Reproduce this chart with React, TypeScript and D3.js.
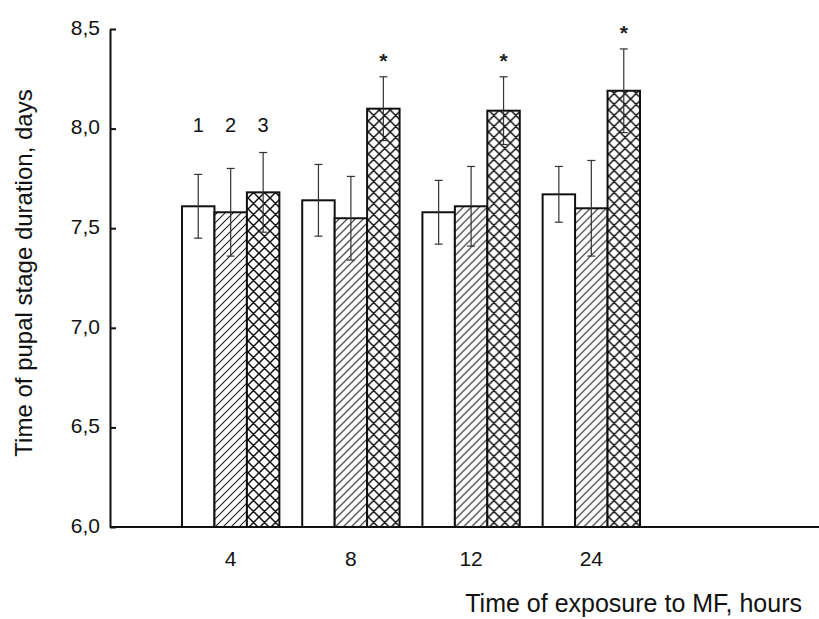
import React, { useEffect, useRef } from 'react';
import * as d3 from 'd3';

// exposure time groups (hours)
const exposureHours = ['4', '8', '12', '24'];
const seriesLabels = ['1', '2', '3'];

// mean pupal stage duration, days
const meanS1 = [7.61, 7.64, 7.58, 7.67];
const meanS2 = [7.58, 7.55, 7.61, 7.6];
const meanS3 = [7.68, 8.1, 8.09, 8.19];

// error (+/-)
const errS1 = [0.16, 0.18, 0.16, 0.14];
const errS2 = [0.22, 0.21, 0.2, 0.24];
const errS3 = [0.2, 0.16, 0.17, 0.21];

// asterisk markers on series 3
const significantS3 = [false, true, true, true];

const yTicks = [6.0, 6.5, 7.0, 7.5, 8.0, 8.5];
const yTickLabels = ['6,0', '6,5', '7,0', '7,5', '8,0', '8,5'];

const width = 819;
const height = 619;
const font = "'Liberation Sans', Arial, sans-serif";

const App = () => {
  const ref = useRef<SVGSVGElement>(null);

  useEffect(() => {
    const svg = d3.select(ref.current);
    svg.selectAll('*').remove();

    const axisX = 110;
    const y = d3.scaleLinear().domain([6, 8.5]).range([527, 29]);
    const x0 = d3.scaleBand().domain(exposureHours).range([182, 640]).paddingInner(0.19);
    const x1 = d3.scaleBand().domain(seriesLabels).range([0, x0.bandwidth()]);

    const means = [meanS1, meanS2, meanS3];
    const errs = [errS1, errS2, errS3];
    const fills = ['#fff', 'url(#hatch)', 'url(#cross)'];

    // patterns
    const defs = svg.append('defs');
    const hatch = defs.append('pattern')
      .attr('id', 'hatch')
      .attr('patternUnits', 'userSpaceOnUse')
      .attr('width', 8)
      .attr('height', 8);
    hatch.append('rect').attr('width', 8).attr('height', 8).attr('fill', '#fff');
    hatch.append('path')
      .attr('d', 'M-2,2 l4,-4 M0,8 l8,-8 M6,10 l4,-4')
      .attr('stroke', '#222')
      .attr('stroke-width', 1.1);

    const cross = defs.append('pattern')
      .attr('id', 'cross')
      .attr('patternUnits', 'userSpaceOnUse')
      .attr('width', 11)
      .attr('height', 11);
    cross.append('rect').attr('width', 11).attr('height', 11).attr('fill', '#fff');
    cross.append('path')
      .attr('d', 'M-2.75,2.75 l5.5,-5.5 M0,11 l11,-11 M8.25,13.75 l5.5,-5.5 M-2.75,8.25 l5.5,5.5 M0,0 l11,11 M8.25,-2.75 l5.5,5.5')
      .attr('stroke', '#111')
      .attr('stroke-width', 1.5);

    // bars
    exposureHours.forEach((h, i) => {
      const g = svg.append('g').attr('transform', `translate(${x0(h)},0)`);
      seriesLabels.forEach((s, k) => {
        g.append('rect')
          .attr('x', x1(s)!)
          .attr('y', y(means[k][i]))
          .attr('width', x1.bandwidth())
          .attr('height', y(6) - y(means[k][i]))
          .attr('fill', fills[k])
          .attr('stroke', '#111')
          .attr('stroke-width', 2);
      });
      // error bars
      seriesLabels.forEach((s, k) => {
        const cx = x1(s)! + x1.bandwidth() / 2;
        const top = y(means[k][i] + errs[k][i]);
        const bot = y(means[k][i] - errs[k][i]);
        const eb = g.append('g').attr('stroke', '#333').attr('stroke-width', 1.2);
        eb.append('line').attr('x1', cx).attr('x2', cx).attr('y1', top).attr('y2', bot);
        eb.append('line').attr('x1', cx - 4).attr('x2', cx + 4).attr('y1', top).attr('y2', top);
        eb.append('line').attr('x1', cx - 4).attr('x2', cx + 4).attr('y1', bot).attr('y2', bot);
        if (k === 2 && significantS3[i]) {
          g.append('text')
            .attr('x', cx)
            .attr('y', top - 9)
            .attr('text-anchor', 'middle')
            .attr('font-family', font)
            .attr('font-size', 21)
            .attr('font-weight', 'bold')
            .attr('fill', '#222')
            .text('*');
        }
      });
      // series numbers over first group
      if (i === 0) {
        seriesLabels.forEach((s) => {
          g.append('text')
            .attr('x', x1(s)! + x1.bandwidth() / 2)
            .attr('y', y(8.0) + 3)
            .attr('text-anchor', 'middle')
            .attr('font-family', font)
            .attr('font-size', 20)
            .attr('fill', '#111')
            .text(s);
        });
      }
    });

    // y axis
    const yAxis = svg.append('g')
      .attr('transform', `translate(${axisX},0)`)
      .call(
        d3.axisLeft(y)
          .tickValues(yTicks)
          .tickFormat((d, i) => yTickLabels[i])
          .tickSizeInner(-6)
          .tickSizeOuter(0)
          .tickPadding(10)
      );
    yAxis.select('.domain').attr('stroke', '#111').attr('stroke-width', 2);
    yAxis.selectAll('.tick line').attr('stroke', '#111').attr('stroke-width', 2);
    yAxis.selectAll('.tick text')
      .attr('font-family', font)
      .attr('font-size', 21)
      .attr('fill', '#111')
      .attr('dy', '0.25em');

    // x axis baseline
    svg.append('line')
      .attr('x1', axisX)
      .attr('x2', width)
      .attr('y1', y(6))
      .attr('y2', y(6))
      .attr('stroke', '#111')
      .attr('stroke-width', 2);

    // x tick labels
    svg.append('g')
      .selectAll('text')
      .data(exposureHours)
      .enter()
      .append('text')
      .attr('x', (d) => x0(d)! + x0.bandwidth() / 2)
      .attr('y', y(6) + 39)
      .attr('text-anchor', 'middle')
      .attr('font-family', font)
      .attr('font-size', 21)
      .attr('fill', '#111')
      .text((d) => d);

    // axis titles
    svg.append('text')
      .attr('x', 802)
      .attr('y', 612)
      .attr('text-anchor', 'end')
      .attr('font-family', font)
      .attr('font-size', 25)
      .attr('fill', '#111')
      .text('Time of exposure to MF, hours');

    svg.append('text')
      .attr('transform', 'translate(32,273) rotate(-90)')
      .attr('text-anchor', 'middle')
      .attr('font-family', font)
      .attr('font-size', 24)
      .attr('fill', '#111')
      .text('Time of pupal stage duration, days');
  }, []);

  return (
    <svg
      ref={ref}
      width={width}
      height={height}
      style={{ position: 'absolute', left: 0, top: 0, background: '#fff' }}
    />
  );
};

export default App;
